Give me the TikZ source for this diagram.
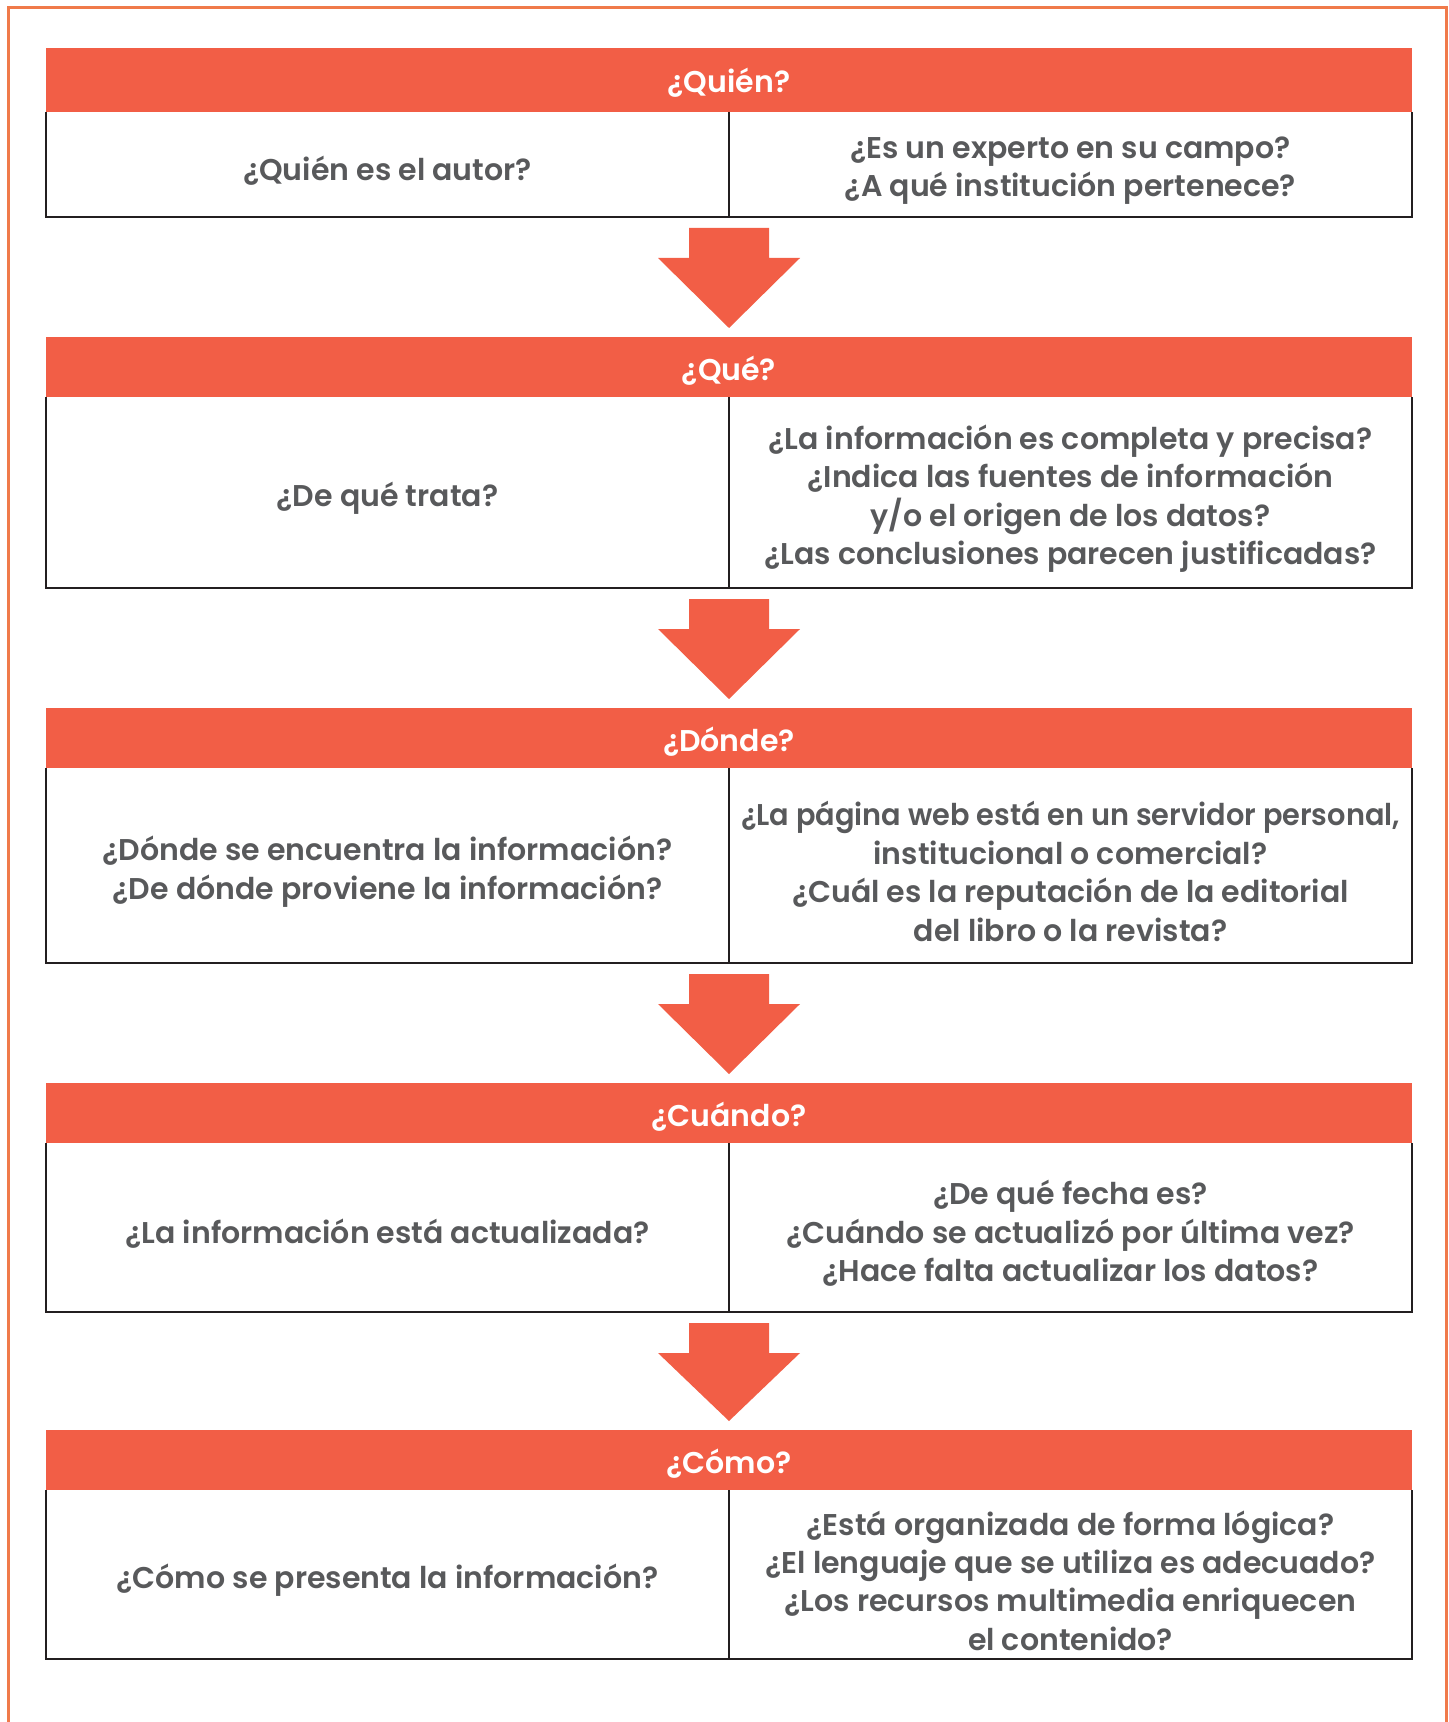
\documentclass[tikz,border=0pt]{standalone}
\usepackage{fontspec}
\setmainfont{Poppins}[BoldFont={Poppins SemiBold}]
\usepackage{xcolor}
\usepackage{graphicx}
\usepackage{tikz}
\usetikzlibrary{calc,positioning}

\definecolor{rojizo}{HTML}{F25E46}
\definecolor{naranjaMarco}{HTML}{F07A4A}
\definecolor{grisTexto}{HTML}{58595B}
\definecolor{lineaOscura}{HTML}{231F20}

\tikzset{
    encabezado/.style={fill=rojizo, text=white, font=\bfseries\fontsize{15}{18}\selectfont,
        text height=13pt, text depth=0pt,
        minimum width=683pt, minimum height=30pt, inner sep=0pt, outer sep=0pt},
    celda/.style={text=grisTexto, font=\bfseries\fontsize{15}{19.2}\selectfont, align=center,
        minimum width=341.5pt, inner sep=0pt, outer sep=0pt, yshift=-6pt},
    marco/.style={draw=lineaOscura, line width=1.3pt},
}

% frame of the two cells below header #1 (no top line), down to the bottom of cell #2
\newcommand{\marcocuerpo}[2]{
    \draw[marco] (#1.south west) -- (#1.south west |- #2.south) -- (#1.south east |- #2.south) -- (#1.south east);
    \draw[marco] (#1.south) -- (#1.south |- #2.south);
}
% big block arrow from a body cell down to the next header
\newcommand{\flecha}[2]{
    \coordinate (fa) at ($(#1.south east)+(0,11)$);
    \fill[rojizo] ($(fa)+(-40,0)$) -- ($(fa)+(40,0)$) -- ($(fa)+(40,30)$) -- ($(fa)+(71,30)$)
        -- ($(#2.north)+(0,-9)$) -- ($(fa)+(-71,30)$) -- ($(fa)+(-40,30)$) -- cycle;
}

\begin{document}
\begin{tikzpicture}[x=0.5pt, y=-0.5pt]
    \useasboundingbox (0,0) rectangle (1448,1722);
    % outer frame
    \draw[naranjaMarco, line width=1.5pt] (8,1722) -- (8,8) -- (1446,8) -- (1446,1722);

    % Quien
    \node[encabezado, anchor=north west, minimum height=32pt] (h1) at (46,48) {¿Quién?};
    \node[celda, anchor=north west, minimum height=46.5pt] (c1a) at (h1.south west) {¿Quién es el autor?};
    \node[celda, anchor=north east, minimum height=46.5pt] (c1b) at (h1.south east)
        {¿Es un experto en su campo?\\¿A qué institución pertenece?};
    \marcocuerpo{h1}{c1a}

    % Que
    \node[encabezado, below=60pt of c1a.south east] (h2) {¿Qué?};
    \node[celda, anchor=north west, minimum height=89.5pt] (c2a) at (h2.south west) {¿De qué trata?};
    \node[celda, anchor=north east, minimum height=89.5pt] (c2b) at (h2.south east)
        {¿La información es completa y precisa?\\¿Indica las fuentes de información\\y/o el origen de los datos?\\¿Las conclusiones parecen justificadas?};
    \marcocuerpo{h2}{c2a}
    \flecha{c1a}{h2}

    % Donde
    \node[encabezado, below=60pt of c2a.south east] (h3) {¿Dónde?};
    \node[celda, anchor=north west, minimum height=91.5pt] (c3a) at (h3.south west)
        {¿Dónde se encuentra la información?\\¿De dónde proviene la información?};
    \node[celda, anchor=north east, minimum height=91.5pt] (c3b) at (h3.south east)
        {\scalebox{0.96}[1]{¿La página web está en un servidor personal,}\\institucional o comercial?\\¿Cuál es la reputación de la editorial\\del libro o la revista?};
    \marcocuerpo{h3}{c3a}
    \flecha{c2a}{h3}

    % Cuando
    \node[encabezado, below=60pt of c3a.south east] (h4) {¿Cuándo?};
    \node[celda, anchor=north west, minimum height=78.5pt] (c4a) at (h4.south west) {¿La información está actualizada?};
    \node[celda, anchor=north east, minimum height=78.5pt] (c4b) at (h4.south east)
        {¿De qué fecha es?\\¿Cuándo se actualizó por última vez?\\¿Hace falta actualizar los datos?};
    \marcocuerpo{h4}{c4a}
    \flecha{c3a}{h4}

    % Como
    \node[encabezado, below=59pt of c4a.south east] (h5) {¿Cómo?};
    \node[celda, anchor=north west, minimum height=78.5pt] (c5a) at (h5.south west) {¿Cómo se presenta la información?};
    \node[celda, anchor=north east, minimum height=78.5pt] (c5b) at (h5.south east)
        {¿Está organizada de forma lógica?\\¿El lenguaje que se utiliza es adecuado?\\¿Los recursos multimedia enriquecen\\el contenido?};
    \marcocuerpo{h5}{c5a}
    \flecha{c4a}{h5}
\end{tikzpicture}
\end{document}
